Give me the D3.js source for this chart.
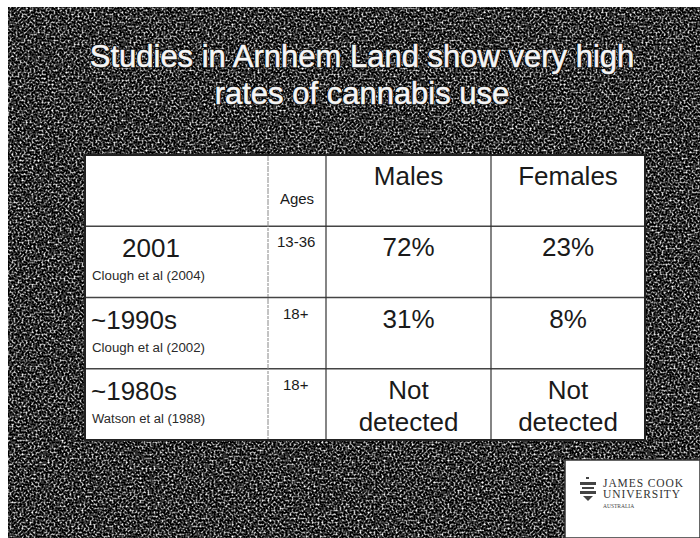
<!DOCTYPE html>
<html>
<head>
<meta charset="utf-8">
<script src="https://cdn.jsdelivr.net/npm/d3@7"></script>
<style>
  body { margin: 0; background: #fff; }
  text.sans { font-family: "Liberation Sans", Arial, sans-serif; }
  text.serif { font-family: "Liberation Serif", "Times New Roman", serif; }
</style>
</head>
<body>
<div id="slide"></div>
<script>
// Slide: cannabis use studies table

const WIDTH = 700
const HEIGHT = 538

const titleLines = ["Studies in Arnhem Land show very high", "rates of cannabis use"]
const columns = ["period", "ages", "males", "females"]
const headers = ["", "Ages", "Males", "Females"]
const periods = ["2001", "~1990s", "~1980s"]
const citations = ["Clough et al (2004)", "Clough et al (2002)", "Watson et al (1988)"]
const ages = ["13-36", "18+", "18+"]
const males = ["72%", "31%", "Not detected"]
const females = ["23%", "8%", "Not detected"]

const SVG = d3.select("#slide")
  .append("svg")
  .attr("width", WIDTH)
  .attr("height", HEIGHT)

// granite background
const defs = SVG.append("defs")
const noise = defs.append("filter")
  .attr("id", "granite")
  .attr("color-interpolation-filters", "sRGB")
  .attr("x", 0).attr("y", 0).attr("width", "100%").attr("height", "100%")
noise.append("feTurbulence")
  .attr("type", "fractalNoise")
  .attr("baseFrequency", 0.5)
  .attr("numOctaves", 3)
  .attr("seed", 7)
noise.append("feColorMatrix")
  .attr("type", "matrix")
  .attr("values", "2.7 0 0 0 -1.17  2.7 0 0 0 -1.17  2.7 0 0 0 -1.17  0 0 0 0 1")

SVG.append("rect")
  .attr("x", 8).attr("y", 7)
  .attr("width", WIDTH - 8).attr("height", HEIGHT - 7)
  .attr("fill", "#111")
SVG.append("rect")
  .attr("x", 8).attr("y", 7)
  .attr("width", WIDTH - 8).attr("height", HEIGHT - 7)
  .attr("filter", "url(#granite)")

// title: dark halo under, white text on top
const titleG = SVG.append("g")
;[{ stroke: "#0a0a0a", width: 2.4 }, { stroke: "#f6f6f6", width: 0.6 }].forEach(s => {
  titleG.append("g").selectAll("text")
    .data(titleLines)
    .join("text")
    .attr("class", "title sans")
    .attr("x", 362)
    .attr("y", (d, i) => 67 + 37 * i)
    .attr("text-anchor", "middle")
    .attr("font-size", 31)
    .attr("fill", "#f6f6f6")
    .attr("stroke", s.stroke)
    .attr("stroke-width", s.width)
    .text(d => d)
})

// table scales
const TABLE = { left: 85, right: 645, top: 155, bottom: 440 }
const colEdge = d3.scaleOrdinal()
  .domain(columns)
  .range([TABLE.left, 268, 326, 491])
const colWidth = c => {
  const i = columns.indexOf(c)
  return (i < columns.length - 1 ? colEdge(columns[i + 1]) : TABLE.right) - colEdge(c)
}
const rowY = d3.scaleBand()
  .domain(["header", ...periods])
  .range([TABLE.top, TABLE.bottom])

const rows = periods.map((p, i) => ({
  period: p, citation: citations[i], ages: ages[i], males: males[i], females: females[i]
}))

const table = SVG.append("g")

table.append("rect")
  .attr("x", TABLE.left).attr("y", TABLE.top)
  .attr("width", TABLE.right - TABLE.left)
  .attr("height", TABLE.bottom - TABLE.top)
  .attr("fill", "#fff")

// grid lines
table.selectAll("line.row-line")
  .data(periods)
  .join("line")
  .attr("class", "row-line")
  .attr("x1", TABLE.left).attr("x2", TABLE.right)
  .attr("y1", d => rowY(d)).attr("y2", d => rowY(d))
  .attr("stroke", "#444")
  .attr("stroke-width", 1.3)

table.selectAll("line.col-line")
  .data(columns.slice(1))
  .join("line")
  .attr("class", "col-line")
  .attr("x1", d => colEdge(d)).attr("x2", d => colEdge(d))
  .attr("y1", TABLE.top).attr("y2", TABLE.bottom)
  .attr("stroke", d => d == "ages" ? "#888" : "#333")
  .attr("stroke-width", d => d == "ages" ? 1 : 1.2)
  .attr("stroke-dasharray", d => d == "ages" ? "6 1 3 1" : null)

table.append("rect")
  .attr("x", TABLE.left).attr("y", TABLE.top)
  .attr("width", TABLE.right - TABLE.left)
  .attr("height", TABLE.bottom - TABLE.top)
  .attr("fill", "none")
  .attr("stroke", "#222")
  .attr("stroke-width", 2)

// header texts
table.selectAll("text.header")
  .data(columns.map((c, i) => ({ col: c, label: headers[i] })).filter(d => d.label))
  .join("text")
  .attr("class", "header sans")
  .attr("x", d => colEdge(d.col) + colWidth(d.col) / 2)
  .attr("y", d => rowY("header") + (d.col == "ages" ? 49 : 30))
  .attr("text-anchor", "middle")
  .attr("font-size", d => d.col == "ages" ? 15 : 26)
  .attr("fill", "#1a1a1a")
  .text(d => d.label)

// body rows
const rowG = table.selectAll("g.row")
  .data(rows)
  .join("g")
  .attr("class", "row")
  .attr("transform", d => `translate(0, ${rowY(d.period)})`)

rowG.append("text")
  .attr("class", "sans")
  .attr("x", (d, i) => i == 0 ? colEdge("period") + 66 : colEdge("period") + 6)
  .attr("y", 31)
  .attr("text-anchor", (d, i) => i == 0 ? "middle" : "start")
  .attr("font-size", 26)
  .attr("fill", "#1a1a1a")
  .text(d => d.period)

rowG.append("text")
  .attr("class", "sans")
  .attr("x", colEdge("period") + 7)
  .attr("y", 54)
  .attr("font-size", 12.5)
  .attr("textLength", 113)
  .attr("lengthAdjust", "spacingAndGlyphs")
  .attr("fill", "#2a2a2a")
  .text(d => d.citation)

rowG.append("text")
  .attr("class", "sans")
  .attr("x", (d, i) => i == 0 ? colEdge("ages") + 9 : colEdge("ages") + 15)
  .attr("y", 21)
  .attr("font-size", 15)
  .attr("fill", "#1a1a1a")
  .text(d => d.ages)

;["males", "females"].forEach(col => {
  rowG.append("text")
    .attr("class", "sans")
    .attr("text-anchor", "middle")
    .attr("font-size", 26)
    .attr("fill", "#1a1a1a")
    .selectAll("tspan")
    .data(d => d[col].split(" "))
    .join("tspan")
    .attr("x", colEdge(col) + colWidth(col) / 2)
    .attr("y", (d, i) => 30 + 32 * i)
    .text(d => d)
})

// university logo
const logo = SVG.append("g").attr("transform", "translate(565, 460)")
logo.append("rect")
  .attr("width", WIDTH - 565).attr("height", HEIGHT - 460)
  .attr("fill", "#fff")
  .attr("stroke", "#333")
  .attr("stroke-width", 1.5)
const crest = logo.append("g").attr("transform", "translate(14, 17)").attr("fill", "#444")
crest.append("rect").attr("x", 7).attr("y", 0).attr("width", 3).attr("height", 2)
crest.append("rect").attr("x", 1).attr("y", 5).attr("width", 16).attr("height", 3)
crest.append("rect").attr("x", 3).attr("y", 10).attr("width", 12).attr("height", 2)
crest.append("rect").attr("x", 1).attr("y", 14).attr("width", 16).attr("height", 3)
crest.append("path").attr("d", "M4 19 L14 19 L9 24 Z")
logo.selectAll("text.logo")
  .data(["JAMES COOK", "UNIVERSITY"])
  .join("text")
  .attr("class", "logo serif")
  .attr("x", 38)
  .attr("y", (d, i) => 27 + 11 * i)
  .attr("font-size", 11.5)
  .attr("letter-spacing", 0.9)
  .attr("fill", "#333")
  .text(d => d)
logo.append("text")
  .attr("class", "serif")
  .attr("x", 38).attr("y", 48)
  .attr("font-size", 5.5)
  .attr("fill", "#444")
  .text("AUSTRALIA")
</script>
</body>
</html>
